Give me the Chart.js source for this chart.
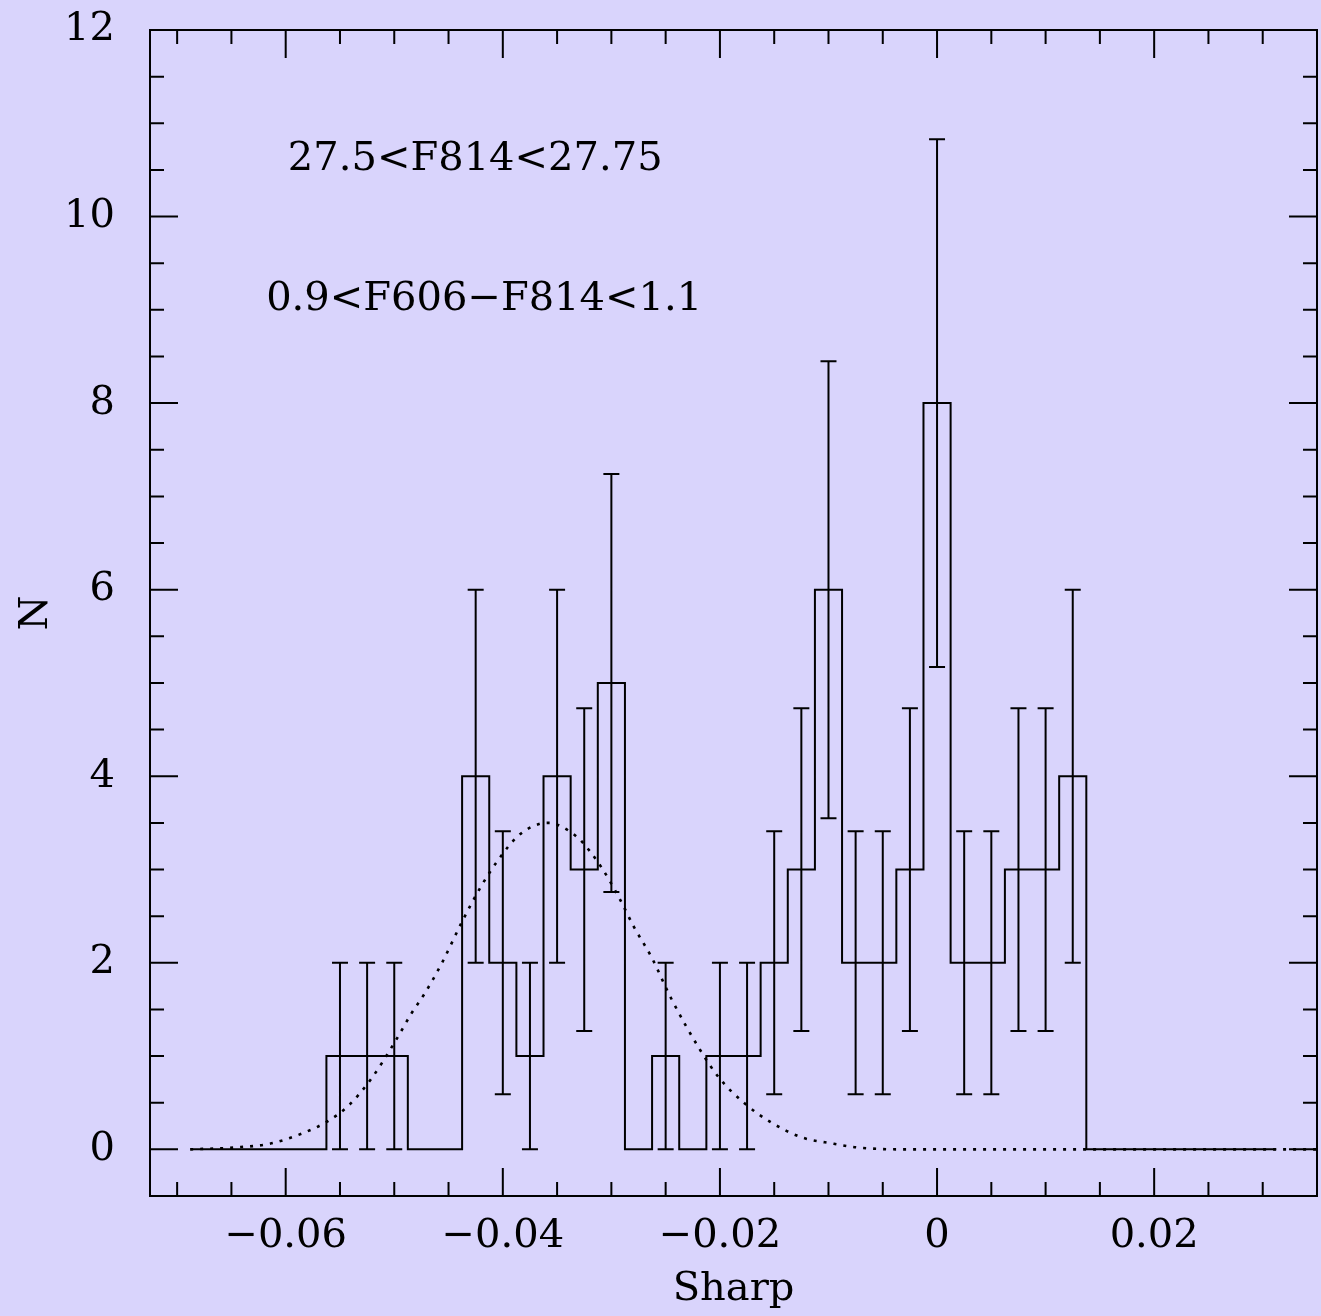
<!DOCTYPE html>
<html>
<head>
<meta charset="utf-8">
<script src="https://cdn.jsdelivr.net/npm/chart.js@4.4.1/dist/chart.umd.min.js"></script>
<style>
  html, body { margin: 0; padding: 0; background: #d9d4fc; }
  canvas { display: block; }
</style>
</head>
<body>
<canvas id="myChart" width="1321" height="1316"></canvas>
<script>
// histogram: bin centres (Sharp), counts and error bar half lengths
var binWidth = 0.0025;
var binCenters = [-0.0675, -0.065, -0.0625, -0.06, -0.0575, -0.055, -0.0525, -0.05, -0.0475, -0.045,
	-0.0425, -0.04, -0.0375, -0.035, -0.0325, -0.03, -0.0275, -0.025, -0.0225, -0.02,
	-0.0175, -0.015, -0.0125, -0.01, -0.0075, -0.005, -0.0025, 0, 0.0025, 0.005,
	0.0075, 0.01, 0.0125, 0.015, 0.0175, 0.02, 0.0225, 0.025, 0.0275, 0.03];
var counts = [0, 0, 0, 0, 0, 1, 1, 1, 0, 0,
	4, 2, 1, 4, 3, 5, 0, 1, 0, 1,
	1, 2, 3, 6, 2, 2, 3, 8, 2, 2,
	3, 3, 4, 0, 0, 0, 0, 0, 0, 0];
var errors = [0, 0, 0, 0, 0, 1, 1, 1, 0, 0,
	2, 1.41, 1, 2, 1.73, 2.24, 0, 1, 0, 1,
	1, 1.41, 1.73, 2.45, 1.41, 1.41, 1.73, 2.83, 1.41, 1.41,
	1.73, 1.73, 2, 0, 0, 0, 0, 0, 0, 0];

// dotted fit curve
var fitX = [-0.0688, -0.0647, -0.0615, -0.0585, -0.056, -0.0542, -0.0521, -0.05, -0.0484, -0.0472,
	-0.0456, -0.0438, -0.0422, -0.0405, -0.0385, -0.0366, -0.0357, -0.0346, -0.0329, -0.0309,
	-0.0293, -0.0279, -0.0263, -0.0245, -0.0219, -0.0201, -0.0178, -0.0153, -0.0125, -0.0095,
	-0.0073, -0.0033, 0.005, 0.015, 0.025, 0.035];
var fitY = [0, 0.02, 0.06, 0.17, 0.31, 0.47, 0.76, 1.14, 1.46, 1.67,
	2.0, 2.43, 2.78, 3.09, 3.37, 3.49, 3.5, 3.46, 3.32, 3.02,
	2.70, 2.38, 2.06, 1.62, 1.08, 0.77, 0.50, 0.29, 0.13, 0.06,
	0.02, 0, 0, 0, 0, 0];

var xTickValues = [-0.06, -0.04, -0.02, 0, 0.02];
var yTickValues = [0, 2, 4, 6, 8, 10, 12];
var annotations = [
	{ text: '27.5<F814<27.75', x: -0.0598, y: 10.5 },
	{ text: '0.9<F606\u2212F814<1.1', x: -0.0618, y: 9.0 }
];

var bg = '#d9d4fc';
var fontFamily = '"DejaVu Serif", serif';

// step line through the left edges, closed at the last right edge
var histPoints = [];
for (var i = 0; i < binCenters.length; i++) {
	histPoints.push({ x: binCenters[i] - binWidth / 2, y: counts[i] });
}
histPoints.push({ x: binCenters[binCenters.length - 1] + binWidth / 2, y: counts[counts.length - 1] });

var fitPoints = [];
for (var i = 0; i < fitX.length; i++) {
	fitPoints.push({ x: fitX[i], y: fitY[i] });
}

function fmt(v) {
	if (Math.abs(v) < 1e-9) return '0';
	return String(v).replace('-', '\u2212');
}

var backgroundPlugin = {
	id: 'bg',
	beforeDraw: function(chart) {
		var ctx = chart.ctx;
		ctx.save();
		ctx.fillStyle = bg;
		ctx.fillRect(0, 0, chart.width, chart.height);
		ctx.restore();
	}
};

var framePlugin = {
	id: 'frame',
	afterDraw: function(chart) {
		var ctx = chart.ctx;
		var a = chart.chartArea;
		var xs = chart.scales.x;
		var ys = chart.scales.y;
		ctx.save();
		ctx.strokeStyle = '#000';
		ctx.lineWidth = 2;

		// error bars
		ctx.beginPath();
		for (var i = 0; i < binCenters.length; i++) {
			if (errors[i] <= 0) continue;
			var px = xs.getPixelForValue(binCenters[i]);
			var lo = ys.getPixelForValue(counts[i] - errors[i]);
			var hi = ys.getPixelForValue(counts[i] + errors[i]);
			ctx.moveTo(px, lo); ctx.lineTo(px, hi);
			ctx.moveTo(px - 8, lo); ctx.lineTo(px + 8, lo);
			ctx.moveTo(px - 8, hi); ctx.lineTo(px + 8, hi);
		}
		ctx.stroke();

		// frame
		ctx.strokeRect(a.left, a.top, a.right - a.left, a.bottom - a.top);

		// inward ticks on all four sides
		ctx.beginPath();
		for (var k = -14; k <= 7; k++) {
			var v = k * 0.005;
			var p = xs.getPixelForValue(v);
			if (p <= a.left + 1 || p >= a.right - 1) continue;
			var len = (k % 4 === 0) ? 28 : 14;
			ctx.moveTo(p, a.bottom); ctx.lineTo(p, a.bottom - len);
			ctx.moveTo(p, a.top); ctx.lineTo(p, a.top + len);
		}
		for (var k = 0; k <= 24; k++) {
			var v = k * 0.5;
			var p = ys.getPixelForValue(v);
			if (p <= a.top + 1 || p >= a.bottom - 1) continue;
			var len = (k % 4 === 0) ? 28 : 14;
			ctx.moveTo(a.left, p); ctx.lineTo(a.left + len, p);
			ctx.moveTo(a.right, p); ctx.lineTo(a.right - len, p);
		}
		ctx.stroke();

		// text labels inside the plot
		ctx.fillStyle = '#000';
		ctx.font = '40px ' + fontFamily;
		ctx.textAlign = 'left';
		ctx.textBaseline = 'alphabetic';
		annotations.forEach(function(t) {
			ctx.fillText(t.text, xs.getPixelForValue(t.x), ys.getPixelForValue(t.y));
		});
		ctx.restore();
	}
};

const ctx = document.getElementById('myChart');
const myChart = new Chart(ctx, {
	type: 'line',
	data: {
		datasets: [{
			data: fitPoints,
			borderColor: '#000',
			borderWidth: 2.6,
			borderDash: [3, 7],
			cubicInterpolationMode: 'monotone',
			pointRadius: 0,
			fill: false
		}, {
			data: histPoints,
			borderColor: '#000',
			borderWidth: 2,
			stepped: 'before',
			pointRadius: 0,
			fill: false
		}]
	},
	options: {
		responsive: false,
		animation: false,
		devicePixelRatio: 1,
		layout: { autoPadding: false, padding: { top: 30, right: 4, left: 0, bottom: 0 } },
		plugins: {
			legend: { display: false },
			tooltip: { enabled: false }
		},
		scales: {
			x: {
				type: 'linear',
				min: -0.0725,
				max: 0.035,
				grid: { display: false },
				border: { display: false },
				afterBuildTicks: function(s) {
					s.ticks = xTickValues.map(function(v) { return { value: v }; });
				},
				afterFit: function(s) {
					s.height = 120;
					s.paddingLeft = 0;
					s.paddingRight = 0;
				},
				ticks: {
					padding: 9,
					autoSkip: false,
					maxRotation: 0,
					color: '#000',
					font: { family: fontFamily, size: 40 },
					callback: function(v) { return fmt(v); }
				},
				title: {
					display: true,
					text: 'Sharp',
					color: '#000',
					font: { family: fontFamily, size: 40 },
					padding: { top: 0, bottom: 2 }
				}
			},
			y: {
				type: 'linear',
				min: -0.5,
				max: 12,
				grid: { display: false },
				border: { display: false },
				afterBuildTicks: function(s) {
					s.ticks = yTickValues.map(function(v) { return { value: v }; });
				},
				afterFit: function(s) {
					s.width = 150;
					s.paddingTop = 0;
					s.paddingBottom = 0;
				},
				ticks: {
					padding: 27,
					autoSkip: false,
					color: '#000',
					font: { family: fontFamily, size: 40 },
					callback: function(v) { return fmt(v); }
				},
				title: {
					display: true,
					text: 'N',
					color: '#000',
					font: { family: fontFamily, size: 40 },
					padding: { top: 13, bottom: 0 }
				}
			}
		}
	},
	plugins: [backgroundPlugin, framePlugin]
});
</script>
</body>
</html>
